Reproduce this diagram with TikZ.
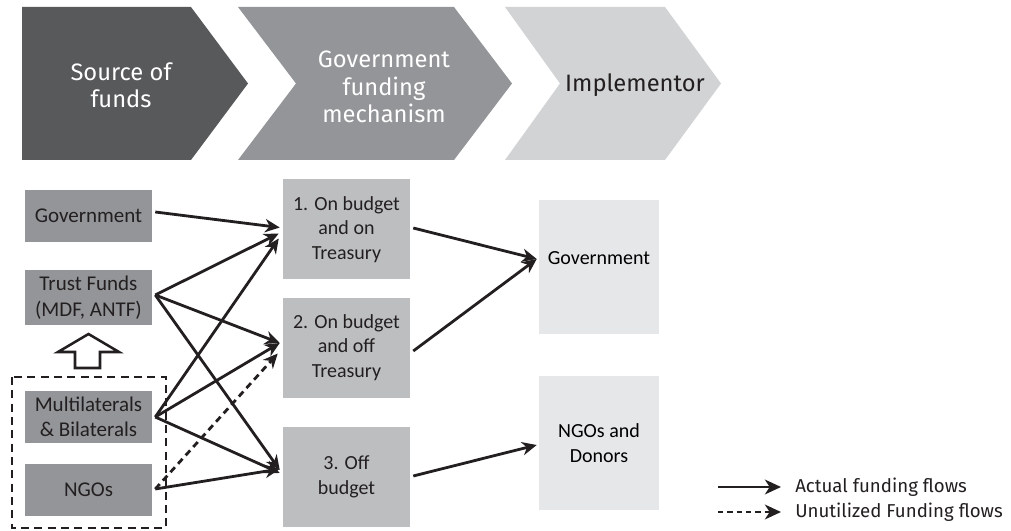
\documentclass[tikz,border=0pt]{standalone}
\usepackage{fontspec}
\setmainfont{Carlito}
\newfontfamily\chevfont{Fira Sans}
\usetikzlibrary{arrows.meta,calc}
\definecolor{chevA}{HTML}{58595B}
\definecolor{chevB}{HTML}{939598}
\definecolor{chevC}{HTML}{D1D3D4}
\definecolor{srcbox}{HTML}{939598}
\definecolor{mechbox}{HTML}{BCBEC0}
\definecolor{implbox}{HTML}{E6E7E8}
\definecolor{ink}{HTML}{231F20}
\begin{document}
\begin{tikzpicture}[x=0.75pt,y=-0.75pt,
  flow/.style={line width=2.1pt, draw=ink, -{Stealth[length=11pt,width=10pt,inset=3.5pt]}},
  unused/.style={flow, dash pattern=on 5pt off 3.5pt},
  chevtext/.style={align=center, inner sep=0pt, font=\chevfont\fontsize{17.8}{20.5}\selectfont},
  srcnode/.style={fill=srcbox, text=ink, align=center, inner sep=0pt, minimum width=95.25pt, minimum height=39pt, font=\fontsize{15.75}{19}\selectfont},
  mechnode/.style={fill=mechbox, text=ink, align=center, inner sep=0pt, minimum width=95.25pt, minimum height=75pt, font=\fontsize{15}{18.4}\selectfont},
  implnode/.style={fill=implbox, text=black, align=center, inner sep=0pt, minimum width=90pt, minimum height=100.5pt, font=\fontsize{15}{18.4}\selectfont},
  legtext/.style={anchor=west, inner sep=0pt, text=ink, font=\chevfont\fontsize{14}{16}\selectfont}
]
\useasboundingbox (0,0) rectangle (1011,531);

% chevrons
\fill[chevA] (22,7) -- (191,7) -- (248,83.5) -- (191,160) -- (22,160) -- cycle;
\fill[chevB] (238,7) -- (454,7) -- (512,83.5) -- (454,160) -- (238,160) -- (296,83.5) -- cycle;
\fill[chevC] (505,7) -- (665,7) -- (721,83.5) -- (665,160) -- (505,160) -- (560,83.5) -- cycle;
\node[chevtext, text=white] (h1) at (121,85) {Source of\\funds};
\node[chevtext, text=white] (h2) at (384,87) {Government\\funding\\mechanism};
\node[chevtext, text=ink] (h3) at (635,85) {Implementor};

% source boxes
\node[srcnode] (sg) at (88.5,216) {Government};
\node[srcnode, minimum height=41.25pt] (st) at (88.5,297.5) {Trust Funds\\(MDF, ANTF)};
\node[srcnode] (sm) at (88.5,417) {Multilaterals\\\& Bilaterals};
\node[srcnode] (sn) at (88.5,490) {NGOs};

% dashed group
\draw[line width=1.9pt, draw=ink, dash pattern=on 6pt off 4pt] (12,377) rectangle (166,528);

% hollow up arrow
\draw[line width=1.9pt, draw=ink, fill=white, line join=miter]
  (75,368) -- (75,352) -- (58,352) -- (88.5,334) -- (119,352) -- (100,352) -- (100,368) -- cycle;

% mechanism boxes
\node[mechnode] (m1) at (346.5,229.5) {1. On budget\\and on\\Treasury};
\node[mechnode] (m2) at (346.5,347.5) {2. On budget\\and off\\Treasury};
\node[mechnode] (m3) at (346.5,477) {3. Off\\budget};

% implementor boxes
\node[implnode, text depth=13pt] (ig) at (599,267) {Government};
\node[implnode] (in) at (599,443) {NGOs and\\Donors};

% flows from sources
\draw[flow] ($(sg.east)+(3,-4)$) -- ($(m1.west)+(-3,-2)$);
\draw[flow] ($(st.east)+(3,-2.5)$) -- ($(m1.west)+(-4,4)$);
\draw[flow] ($(st.east)+(3,-2.5)$) -- ($(m2.west)+(-3,-4.5)$);
\draw[flow] ($(st.east)+(3,-2.5)$) -- ($(m3.west)+(-3,-7)$);
\draw[flow] ($(sm.east)+(3,0)$) -- ($(m1.west)+(-4,9)$);
\draw[flow] ($(sm.east)+(3,0)$) -- ($(m2.west)+(-3,-4.5)$);
\draw[flow] ($(sm.east)+(3,0)$) -- ($(m3.west)+(-3,-4)$);
\draw[flow] ($(sn.east)+(3,-1)$) -- ($(m3.west)+(-3,-8)$);
\draw[unused] ($(sn.east)+(3,-1)$) -- ($(m2.west)+(-5,6)$);

% flows to implementors
\draw[flow] ($(m1.east)+(3,-1.5)$) -- ($(ig.west)+(-2,-8)$);
\draw[flow] ($(m2.east)+(3,3.5)$) -- ($(ig.west)+(-2,-8)$);
\draw[flow] ($(m3.east)+(3,-1)$) -- ($(in.west)+(-2,2)$);

% legend
\coordinate (la) at (718,487);
\coordinate (lb) at (781,487);
\coordinate (lc) at (718,512);
\coordinate (ld) at (781,512);
\draw[flow, -{Stealth[length=12pt,width=11pt,inset=3.5pt]}] (la) -- (lb);
\draw[unused, dash pattern=on 4pt off 3pt, -{Stealth[length=12pt,width=11pt,inset=3.5pt]}] (lc) -- (ld);
\node[legtext] (lt1) at (795,487) {Actual funding flows};
\node[legtext] (lt2) at (795,512) {Unutilized Funding flows};
\end{tikzpicture}
\end{document}
